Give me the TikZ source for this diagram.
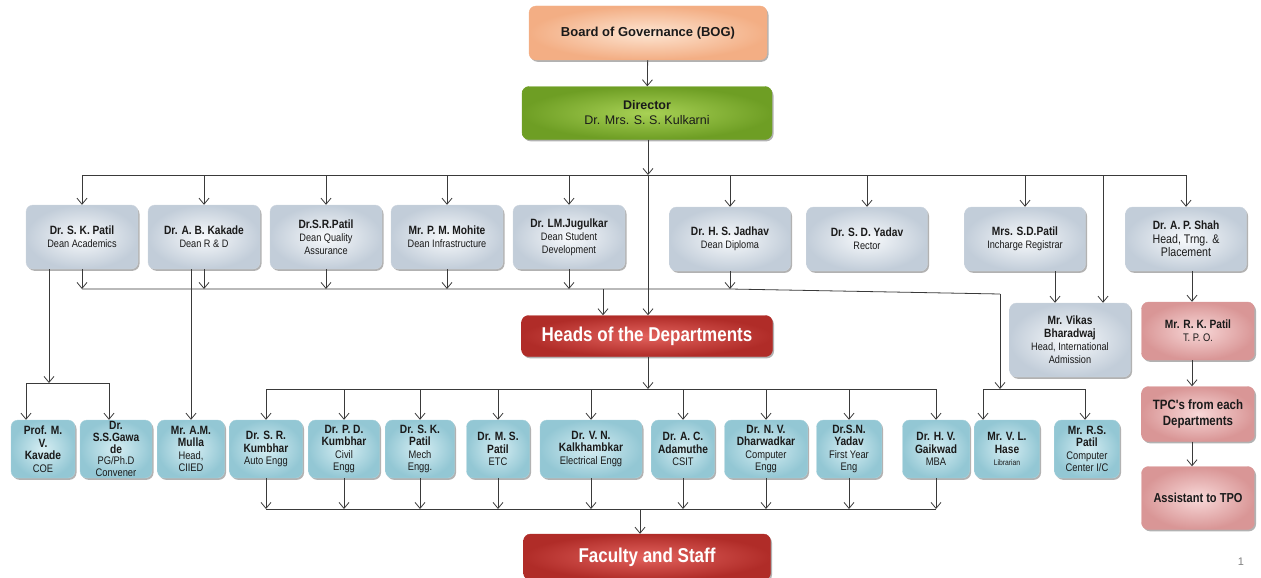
\documentclass[tikz,border=0pt]{standalone}
\usepackage{fontspec}
\setmainfont{Liberation Sans}
\newfontfamily\narrowfont{Liberation Sans}[FakeStretch=0.85]
\usetikzlibrary{arrows.meta,shadows}

\definecolor{linegray}{HTML}{3A3A3A}
\definecolor{textdark}{HTML}{1A1A1A}
\definecolor{deanin}{HTML}{F8FAFC}
\definecolor{deanout}{HTML}{C2CDD9}
\definecolor{deanedge}{HTML}{CDD5DE}
\definecolor{deptin}{HTML}{D6EEF3}
\definecolor{deptout}{HTML}{93C7D4}
\definecolor{deptedge}{HTML}{A8D2DC}
\definecolor{bogin}{HTML}{FDE5D2}
\definecolor{bogout}{HTML}{F3AE84}
\definecolor{dirin}{HTML}{A8D155}
\definecolor{dirout}{HTML}{6E9E24}
\definecolor{redin}{HTML}{E2625D}
\definecolor{redout}{HTML}{B02C28}
\definecolor{pinkin}{HTML}{F8D8D8}
\definecolor{pinkout}{HTML}{D99696}

\newcommand{\pname}[1]{{\fontsize{12}{13}\selectfont\bfseries #1}}

\begin{document}
\begin{tikzpicture}[
    x=1pt, y=-1pt,
    >={Straight Barb[length=6pt,width=10pt]},
    line/.style={draw=linegray, line width=0.8pt},
    arrow/.style={line, ->},
    box/.style={rectangle, rounded corners=7pt, align=center, inner sep=1pt, text=textdark,
        line width=0.4pt,
        drop shadow={shadow xshift=1.5pt, shadow yshift=-1.8pt, opacity=0.3, fill=black}},
    topbox/.style={box, minimum height=54pt, font=\fontsize{12.5}{15}\selectfont},
    dean/.style={box, draw=deanedge, inner color=deanin, outer color=deanout,
        minimum width=112pt, minimum height=64pt, font=\narrowfont\fontsize{10.8}{13}\selectfont},
    dept/.style={box, draw=deptedge, inner color=deptin, outer color=deptout,
        minimum height=58pt, font=\narrowfont\fontsize{11}{12.5}\selectfont},
    pinkbox/.style={box, draw=pinkout, inner color=pinkin, outer color=pinkout,
        minimum width=113pt, font=\narrowfont\fontsize{11}{13}\selectfont},
    redbox/.style={box, draw=redout, inner color=redin, outer color=redout, text=white,
        font=\narrowfont\bfseries\fontsize{20}{22}\selectfont}
]
\useasboundingbox (0,0) rectangle (1261,578);

% Board and director
\node[topbox, draw=bogout, inner color=bogin, outer color=bogout, minimum width=238pt,
    font=\bfseries\fontsize{13}{15}\selectfont] (bog) at (648,33) {Board of Governance (BOG)};
\node[topbox, draw=dirout, inner color=dirin, outer color=dirout, minimum width=250pt,
    minimum height=53pt] (director) at (647,113) {\textbf{Director}\\Dr. Mrs. S. S. Kulkarni};

% Deans
\node[dean] (skpatil) at (82,237) {\pname{Dr. S. K. Patil}\\Dean Academics};
\node[dean] (kakade) at (204,237) {\pname{Dr. A. B. Kakade}\\Dean R \& D};
\node[dean] (srpatil) at (326,237) {\pname{Dr.S.R.Patil}\\Dean Quality\\Assurance};
\node[dean] (mohite) at (447,237) {\pname{Mr. P. M. Mohite}\\Dean Infrastructure};
\node[dean] (jugulkar) at (569,237) {\pname{Dr. LM.Jugulkar}\\Dean Student\\Development};
\node[dean, minimum width=121pt] (jadhav) at (730,239) {\pname{Dr. H. S. Jadhav}\\Dean Diploma};
\node[dean, minimum width=121pt] (sdyadav) at (867,239) {\pname{Dr. S. D. Yadav}\\Rector};
\node[dean, minimum width=121pt] (sdpatil) at (1025,239) {\pname{Mrs. S.D.Patil}\\Incharge  Registrar};
\node[dean, minimum width=121pt, font=\narrowfont\fontsize{12.5}{13.5}\selectfont] (shah) at (1186,239)
    {\pname{Dr. A. P. Shah}\\Head, Trng. \&\\Placement};
\node[dean, minimum width=121pt, minimum height=74pt] (vikas) at (1070,340)
    {\pname{Mr. Vikas}\\\pname{Bharadwaj}\\Head, International\\Admission};

% Heads and staff
\node[redbox, minimum width=251pt, minimum height=41pt] (hod) at (647,336) {Heads of the Departments};
\node[redbox, minimum width=247pt, minimum height=46pt] (faculty) at (647,557) {Faculty and Staff};

% Placement cell
\node[pinkbox, minimum height=58pt] (rkpatil) at (1198,331) {\pname{Mr. R. K. Patil}\\T. P. O.};
\node[pinkbox, minimum height=55pt, font=\narrowfont\bfseries\fontsize{13.5}{16}\selectfont] (tpc) at (1198,414)
    {TPC's from each\\Departments};
\node[pinkbox, minimum height=63pt, font=\narrowfont\bfseries\fontsize{13}{15}\selectfont] (assistant) at (1198,498)
    {Assistant to TPO};

% Department row
\node[dept, minimum width=64pt] (kavade) at (43,449) {\pname{Prof. M.}\\\pname{V.}\\\pname{Kavade}\\COE};
\node[dept, minimum width=72pt, font=\narrowfont\fontsize{11}{11.8}\selectfont, inner sep=0pt] (gawade) at (116,449)
    {\pname{Dr.}\\\pname{S.S.Gawa}\\\pname{de}\\PG/Ph.D\\Convener};
\node[dept, minimum width=67pt] (mulla) at (191,449) {\pname{Mr. A.M.}\\\pname{Mulla}\\Head,\\CIIED};
\node[dept, minimum width=73pt] (srkumbhar) at (266,449) {\pname{Dr. S. R.}\\\pname{Kumbhar}\\Auto Engg};
\node[dept, minimum width=71pt] (pdkumbhar) at (344,449) {\pname{Dr. P. D.}\\\pname{Kumbhar}\\Civil\\Engg};
\node[dept, minimum width=69pt] (skpatilm) at (420,449) {\pname{Dr. S. K.}\\\pname{Patil}\\Mech\\Engg.};
\node[dept, minimum width=63pt] (mspatil) at (498,449) {\pname{Dr. M. S.}\\\pname{Patil}\\ETC};
\node[dept, minimum width=102pt] (kalkhambkar) at (591,449) {\pname{Dr. V. N.}\\\pname{Kalkhambkar}\\Electrical Engg};
\node[dept, minimum width=63pt] (adamuthe) at (683,449) {\pname{Dr. A. C.}\\\pname{Adamuthe}\\CSIT};
\node[dept, minimum width=83pt] (dharwadkar) at (766,449) {\pname{Dr. N. V.}\\\pname{Dharwadkar}\\Computer\\Engg};
\node[dept, minimum width=65pt] (snyadav) at (849,449) {\pname{Dr.S.N.}\\\pname{Yadav}\\First Year\\Eng};
\node[dept, minimum width=67pt] (gaikwad) at (936,449) {\pname{Dr. H. V.}\\\pname{Gaikwad}\\MBA};
\node[dept, minimum width=65pt] (hase) at (1007,449) {\pname{Mr. V. L.}\\\pname{Hase}\\{\fontsize{8}{9}\selectfont Librarian}};
\node[dept, minimum width=65pt] (rspatil) at (1087,449) {\pname{Mr. R.S.}\\\pname{Patil}\\Computer\\Center I/C};

\node[text=gray, font=\fontsize{11}{13}\selectfont] (pageno) at (1241,562) {1};

% Bus coordinates
\coordinate (topbus) at (648,175);
\coordinate (deanbus) at (603,289);
\coordinate (intlturn) at (1000,294);
\coordinate (libbus) at (1000,389);
\coordinate (haseIn) at (983,389);
\coordinate (rspIn) at (1085,389);
\coordinate (intltop) at (1103,175);
\coordinate (regdown) at (1055,0);
\coordinate (tpoline) at (1192,0);
\coordinate (coebus) at (49,383);
\coordinate (coeIn) at (26,383);
\coordinate (pgIn) at (109,383);
\coordinate (hodbus) at (648,389);
\coordinate (facbus) at (640,509);

% Board -> director -> deans
\draw[arrow] (bog) -- (director);
\draw[arrow] (director.south -| topbus) -- (topbus);
\draw[arrow] (topbus) -- (topbus |- hod.north);
\draw[line] (skpatil.north |- topbus) -- (shah.north |- topbus);
\foreach \n in {skpatil,kakade,srpatil,mohite,jugulkar,jadhav,sdyadav,sdpatil,shah}
    \draw[arrow] (\n.north |- topbus) -- (\n.north);

% Deans -> heads of departments
\draw[line] (skpatil.south |- deanbus) -- (jadhav.south |- deanbus) -- (intlturn);
\foreach \n in {skpatil,kakade,srpatil,mohite,jugulkar,jadhav}
    \draw[arrow] (\n.south) -- (\n.south |- deanbus);
\draw[arrow] (deanbus) -- (deanbus |- hod.north);

% Library and computer centre
\draw[arrow] (intlturn) -- (libbus);
\draw[line] (haseIn) -- (rspIn);
\draw[arrow] (haseIn) -- (haseIn |- hase.north);
\draw[arrow] (rspIn) -- (rspIn |- rspatil.north);

% International admission
\draw[arrow] (intltop) -- (intltop |- vikas.north);
\draw[arrow] (regdown |- sdpatil.south) -- (regdown |- vikas.north);

% Training and placement
\draw[arrow] (tpoline |- shah.south) -- (tpoline |- rkpatil.north);
\draw[arrow] (tpoline |- rkpatil.south) -- (tpoline |- tpc.north);
\draw[arrow] (tpoline |- tpc.south) -- (tpoline |- assistant.north);

% COE and PG convener
\draw[arrow] (coebus |- skpatil.south) -- (coebus);
\draw[line] (coeIn) -- (pgIn);
\draw[arrow] (coeIn) -- (coeIn |- kavade.north);
\draw[arrow] (pgIn) -- (pgIn |- gawade.north);
\draw[arrow] (mulla.north |- kakade.south) -- (mulla.north);

% Heads -> departments -> faculty
\draw[arrow] (hod.south -| hodbus) -- (hodbus);
\draw[line] (srkumbhar.north |- hodbus) -- (gaikwad.north |- hodbus);
\foreach \n in {srkumbhar,pdkumbhar,skpatilm,mspatil,kalkhambkar,adamuthe,dharwadkar,snyadav,gaikwad}
    \draw[arrow] (\n.north |- hodbus) -- (\n.north);
\draw[line] (srkumbhar.south |- facbus) -- (gaikwad.south |- facbus);
\foreach \n in {srkumbhar,pdkumbhar,skpatilm,mspatil,kalkhambkar,adamuthe,dharwadkar,snyadav,gaikwad}
    \draw[arrow] (\n.south) -- (\n.south |- facbus);
\draw[arrow] (facbus) -- (facbus |- faculty.north);

\end{tikzpicture}
\end{document}
